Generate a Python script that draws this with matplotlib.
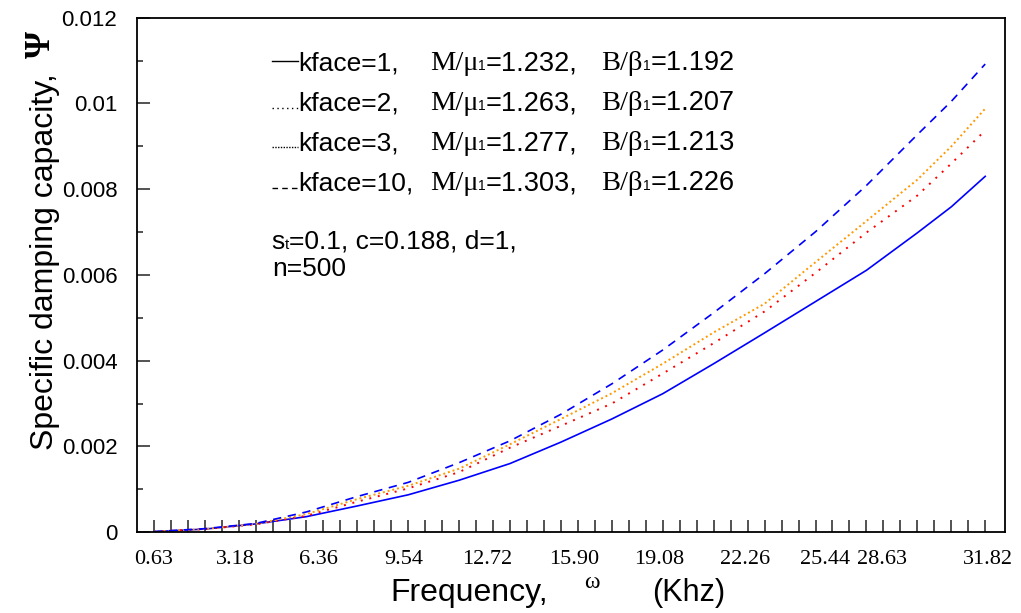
import numpy as np
from matplotlib import pyplot as plt

SANS = 'Liberation Sans'
SERIF = 'Liberation Serif'

# frequency (kHz) at the read points
freq = [0.64, 2.55, 4.45, 6.36, 8.27, 10.18, 12.09, 14.00, 15.91, 17.82,
        19.73, 21.64, 23.55, 25.46, 27.37, 29.27, 30.55, 31.82]

# specific damping capacity, in units of 1e-3
psi_kface1 = [0.01, 0.07, 0.19, 0.36, 0.61, 0.87, 1.21, 1.60, 2.10, 2.64,
              3.23, 3.93, 4.65, 5.38, 6.11, 6.98, 7.59, 8.30]
psi_kface2 = [0.01, 0.07, 0.18, 0.38, 0.71, 1.02, 1.40, 1.97, 2.48, 3.00,
              3.70, 4.41, 5.15, 6.05, 6.99, 7.85, 8.60, 9.37]
psi_kface3 = [0.01, 0.07, 0.19, 0.42, 0.77, 1.08, 1.48, 2.05, 2.64, 3.24,
              3.93, 4.66, 5.33, 6.30, 7.26, 8.22, 9.00, 9.88]
psi_kface10 = [0.01, 0.08, 0.20, 0.47, 0.83, 1.16, 1.62, 2.13, 2.75, 3.46,
               4.25, 5.12, 6.03, 7.01, 8.09, 9.27, 10.05, 10.92]

x_labels = ['0.63', '3.18', '6.36', '9.54', '12.72', '15.90', '19.08',
            '22.26', '25.44', '28.63', '31.82']
x_label_pos = [0.64, 3.71, 6.83, 10.01, 13.13, 16.42, 19.61, 22.80, 25.80,
               27.94, 31.91]

legend_kface = ['kface=1,', 'kface=2,', 'kface=3,', 'kface=10,']
legend_m = ['1.232', '1.263', '1.277', '1.303']
legend_b = ['1.192', '1.207', '1.213', '1.226']

FREQ_STEP = 0.6364
FS = 19


def put_parts(ax, x, y, parts, align='left'):
    # write pieces of text one after another on a shared baseline
    r = ax.figure.canvas.get_renderer()
    px, py = ax.transAxes.transform((x, y))
    texts = []
    cur = px
    for txt, fam, size in parts:
        t = ax.text(cur, py, txt, transform=None, family=fam,
                    fontsize=size, va='baseline')
        cur = t.get_window_extent(renderer=r).x1
        texts.append(t)
    if align == 'right':
        shift = cur - px
        for t in texts:
            tx, ty = t.get_position()
            t.set_position((tx - shift, ty))


def sub_parts(head, tail):
    return [(head, SERIF, 20.5), ('1', SANS, 10), ('=' + tail, SANS, 19.5)]


def draw_curves(ax):
    f = np.array(freq)
    ax.plot(f, np.array(psi_kface1) * 1e-3, color='#0000ff', lw=1.2, ls='-')
    ax.plot(f, np.array(psi_kface2) * 1e-3, color='#ff0000', lw=1.4,
            ls=(0, (1, 3.5)))
    ax.plot(f, np.array(psi_kface3) * 1e-3, color='#ff9900', lw=1.4,
            ls=(0, (1, 1.5)))
    ax.plot(f, np.array(psi_kface10) * 1e-3, color='#0000ff', lw=1.2,
            ls=(0, (5, 4)))


def draw_legend(ax):
    styles = ['-', (0, (1, 2.5)), (0, (1, 1)), (0, (4, 3))]
    line_y = [0.915, 0.825, 0.749, 0.669]
    base_y = [0.898, 0.820, 0.742, 0.665]
    for i in range(4):
        ax.plot([0.1555, 0.1855], [line_y[i]] * 2, transform=ax.transAxes,
                color='black', lw=1.0, ls=styles[i], clip_on=False)
        put_parts(ax, 0.1855, base_y[i], [(legend_kface[i], SANS, FS)])
        put_parts(ax, 0.508, base_y[i],
                  sub_parts('M/\u03bc', legend_m[i] + ','), align='right')
        put_parts(ax, 0.689, base_y[i], sub_parts('B/\u03b2', legend_b[i]),
                  align='right')
    put_parts(ax, 0.1555, 0.551, [('s', SANS, FS), ('t', SANS, 11),
                                  ('=0.1, c=0.188, d=1,', SANS, FS)])
    put_parts(ax, 0.1555, 0.497, [('n=500', SANS, FS)])


def style_axes(ax, fig):
    ax.set_xlim(0, 32.55)
    ax.set_ylim(0, 0.012)
    for s in ax.spines.values():
        s.set_linewidth(1.3)
        s.set_color('black')

    ax.set_xticks(x_label_pos)
    ax.set_xticklabels(x_labels, family=SERIF, fontsize=16)
    ax.set_xticks(np.arange(1, 51) * FREQ_STEP, minor=True)
    ax.tick_params(axis='x', which='major', length=0, pad=13)
    ax.tick_params(axis='x', which='minor', length=9, width=1.3,
                   direction='in', color='#444444')

    ax.set_yticks(np.arange(0, 0.0121, 0.002))
    ax.set_yticklabels(['0', '0.002', '0.004', '0.006', '0.008', '0.01',
                        '0.012'], family=SANS, fontsize=16)
    ax.set_yticks(np.arange(0.001, 0.012, 0.002), minor=True)
    ax.tick_params(axis='y', which='major', length=9, width=1.3,
                   direction='in', pad=14, color='#444444')
    ax.tick_params(axis='y', which='minor', length=4.5, width=1.3,
                   direction='in', color='#444444')

    fig.text(0.044, 0.573, 'Specific damping capacity,', rotation=90,
             family=SANS, fontsize=23, ha='center', va='center')
    fig.text(0.041, 0.927, '\u03a8', rotation=90, family=SERIF, fontsize=25,
             fontweight='bold', ha='center', va='center')
    fig.text(0.382, 0.033, 'Frequency,', family=SANS, fontsize=23,
             va='center')
    fig.text(0.572, 0.049, '\u03c9', family=SERIF, fontsize=17, va='center')
    fig.text(0.639, 0.033, '(Khz)', family=SANS, fontsize=22, va='center')


def main():
    fig = plt.figure(figsize=(10.21, 6.13), dpi=100)
    ax = fig.add_axes([0.134, 0.132, 0.850, 0.839])
    draw_curves(ax)
    style_axes(ax, fig)
    fig.canvas.draw()
    draw_legend(ax)
    fig.savefig('out.png', dpi=100)


if __name__ == "__main__":
    main()
